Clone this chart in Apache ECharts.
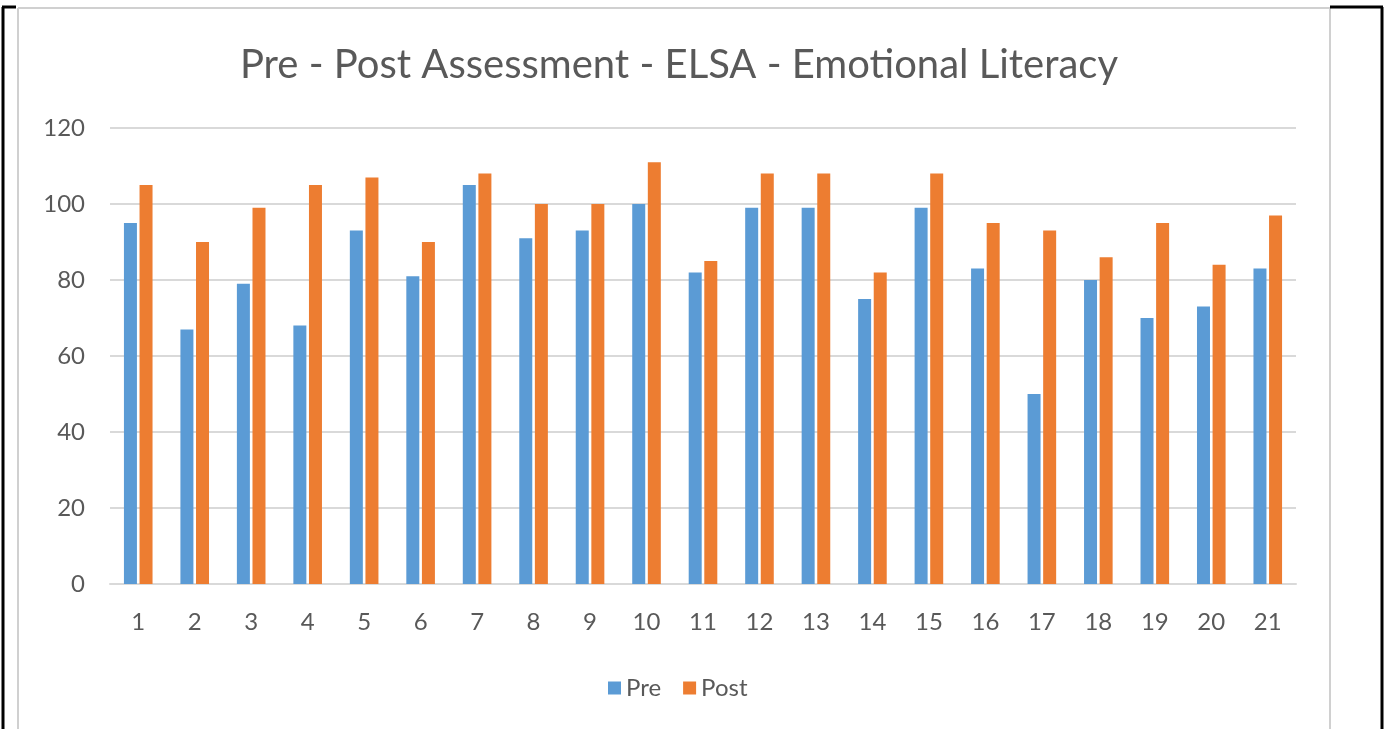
<!DOCTYPE html>
<html><head><meta charset="utf-8">
<script src="https://cdn.jsdelivr.net/npm/echarts@6/dist/echarts.min.js"></script>
<style>html,body{margin:0;padding:0;background:#fff}#c{width:1388px;height:729px}</style>
</head><body><div id="c"></div>
<script>
const categories = ['1','2','3','4','5','6','7','8','9','10','11','12','13','14','15','16','17','18','19','20','21'];
const preValues  = [95,67,79,68,93,81,105,91,93,100,82,99,99,75,99,83,50,80,70,73,83];
const postValues = [105,90,99,105,107,90,108,100,100,111,85,108,108,82,108,95,93,86,95,84,97];
const seriesNames = ['Pre','Post'];
const titleText = 'Pre - Post Assessment - ELSA - Emotional Literacy';

const chart = echarts.init(document.getElementById('c'));
const font = 'Lato, "Open Sans", sans-serif';
chart.setOption({
  animation: false,
  backgroundColor: '#fff',
  title: { text: titleText, left: 674, textAlign: 'center', top: 40, textStyle: { fontFamily: font, fontSize: 40, fontWeight: 'normal', color: '#595959' } },
  legend: { data: seriesNames, top: 671, left: 603, itemWidth: 13, itemHeight: 13, itemGap: 22, icon: 'rect',
    textStyle: { fontFamily: font, fontSize: 24, color: '#595959' } },
  grid: { left: 110, right: 92, top: 128, bottom: 145 },
  xAxis: { type: 'category', data: categories,
    axisLine: { lineStyle: { color: '#d9d9d9', width: 2 } }, axisTick: { show: false },
    axisLabel: { fontFamily: font, fontSize: 24, color: '#595959', margin: 26 } },
  yAxis: { type: 'value', min: 0, max: 120, interval: 20,
    axisLine: { show: false }, axisTick: { show: false },
    splitLine: { lineStyle: { color: '#d9d9d9', width: 2 } },
    axisLabel: { fontFamily: font, fontSize: 24, color: '#595959', margin: 25 } },
  series: [
    { name: seriesNames[0], type: 'bar', data: preValues, barWidth: 13, barGap: '20%', itemStyle: { color: '#5B9BD5' } },
    { name: seriesNames[1], type: 'bar', data: postValues, barWidth: 13, itemStyle: { color: '#ED7D31' } }
  ],
  graphic: [
    { type: 'line', shape: { x1: 18, y1: 8, x2: 1330, y2: 8 }, style: { stroke: '#d0d0d0', lineWidth: 2 } },
    { type: 'line', shape: { x1: 18, y1: 8, x2: 18, y2: 729 }, style: { stroke: '#d0d0d0', lineWidth: 2 } },
    { type: 'line', shape: { x1: 1330, y1: 8, x2: 1330, y2: 729 }, style: { stroke: '#d0d0d0', lineWidth: 2 } },
    { type: 'line', shape: { x1: 3, y1: 7, x2: 3, y2: 729 }, style: { stroke: '#000', lineWidth: 3 } },
    { type: 'line', shape: { x1: 2, y1: 7, x2: 16, y2: 7 }, style: { stroke: '#000', lineWidth: 3 } },
    { type: 'line', shape: { x1: 1330, y1: 7, x2: 1383, y2: 7 }, style: { stroke: '#000', lineWidth: 3 } },
    { type: 'line', shape: { x1: 1382, y1: 7, x2: 1382, y2: 729 }, style: { stroke: '#000', lineWidth: 3 } }
  ]
});
</script></body></html>
